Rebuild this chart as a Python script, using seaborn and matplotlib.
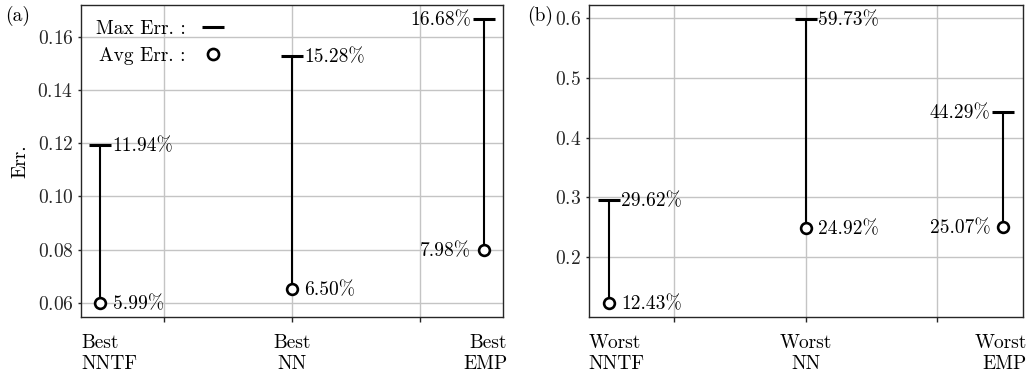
import matplotlib
matplotlib.use("Agg")
import matplotlib.pyplot as plt
from matplotlib.lines import Line2D
import seaborn as sns
import pandas as pd

# ---- data ----
best_labels = ["Best\nNNTF", "Best\nNN", "Best\nEMP"]
best_max = [0.1194, 0.1528, 0.1668]
best_avg = [0.0599, 0.0650, 0.0798]

worst_labels = ["Worst\nNNTF", "Worst\nNN", "Worst\nEMP"]
worst_max = [0.2962, 0.5973, 0.4429]
worst_avg = [0.1243, 0.2492, 0.2507]

best_yticks = [0.06, 0.08, 0.10, 0.12, 0.14, 0.16]
worst_yticks = [0.2, 0.3, 0.4, 0.5, 0.6]

FS = 14

sns.set_style("whitegrid")
plt.rcParams.update({
    "font.family": "serif",
    "font.serif": ["cmr10", "DejaVu Serif"],
    "mathtext.fontset": "cm",
    "axes.unicode_minus": False,
    "axes.formatter.use_mathtext": True,
    "font.size": FS,
    "axes.edgecolor": "0.15",
    "axes.linewidth": 1.0,
    "grid.color": "#c4c4c4",
    "grid.linewidth": 1.0,
    "xtick.bottom": True,
    "ytick.left": True,
    "xtick.major.size": 3.5,
    "ytick.major.size": 2.5,
    "xtick.major.width": 1.0,
    "ytick.major.width": 1.0,
    "xtick.color": "0.15",
    "ytick.color": "0.15",
    "ytick.major.pad": 3.0,
    "text.color": "black",
    "axes.labelcolor": "black",
})

fig = plt.figure(figsize=(10.33, 3.73), dpi=100)
ax_a = fig.add_axes([0.0784, 0.150, 0.4086, 0.8366])
ax_b = fig.add_axes([0.570, 0.150, 0.420, 0.8366])


def draw(ax, labels, mx, av, yticks, left_for_last):
    x = list(range(len(labels)))
    df_max = pd.DataFrame({"x": x, "y": mx})
    df_avg = pd.DataFrame({"x": x, "y": av})
    ax.vlines(x, av, mx, color="black", linewidth=1.5, zorder=3)
    sns.scatterplot(data=df_max, x="x", y="y", marker="_", s=256,
                    color="black", linewidth=2.2, ax=ax, zorder=4)
    sns.scatterplot(data=df_avg, x="x", y="y", marker="o", s=60,
                    facecolor="white", edgecolor="black", linewidth=1.9,
                    ax=ax, zorder=5)
    for i in x:
        last = (i == len(x) - 1) and left_for_last
        off = -9 if last else 9
        ha = "right" if last else "left"
        for v in (mx[i], av[i]):
            ax.annotate(f"{v*100:.2f}%", (i, v), xytext=(off, -1),
                        textcoords="offset points", ha=ha, va="center",
                        fontsize=FS, zorder=6)
    ax.set_xlim(-0.1, 2.1)
    ax.set_xticks([1/3, 1, 5/3])
    ax.set_xticklabels([])
    ax.set_yticks(yticks)
    ax.set_xlabel("")
    ax.set_ylabel("")
    ax.grid(True, zorder=0)
    for sp in ax.spines.values():
        sp.set_visible(True)
        sp.set_color("0.15")
    # category labels under the axis
    xs = [0.0, 0.5, 1.01]
    has = ["left", "center", "right"]
    for lab, xx, h in zip(labels, xs, has):
        ax.text(xx, -0.055, lab, transform=ax.transAxes, ha=h, va="top",
                multialignment=h, fontsize=FS, linespacing=1.2)


draw(ax_a, best_labels, best_max, best_avg, best_yticks, True)
draw(ax_b, worst_labels, worst_max, worst_avg, worst_yticks, True)

ax_a.set_ylabel("Err.", fontsize=FS, labelpad=6)

handles = [
    Line2D([], [], color="black", marker="_", linestyle="none",
           markersize=16, markeredgewidth=2.2),
    Line2D([], [], color="black", marker="o", linestyle="none",
           markersize=8, markerfacecolor="white", markeredgewidth=1.9),
]
ax_a.legend(handles, ["Max Err. :", "Avg Err. :"], loc="upper left",
            frameon=False, markerfirst=False, handletextpad=0.4,
            labelspacing=0.5, fontsize=FS, borderaxespad=0.35)

fig.text(0.005, 0.985, "(a)", ha="left", va="top", fontsize=FS)
fig.text(0.510, 0.985, "(b)", ha="left", va="top", fontsize=FS)

fig.savefig("out.png", dpi=100)
